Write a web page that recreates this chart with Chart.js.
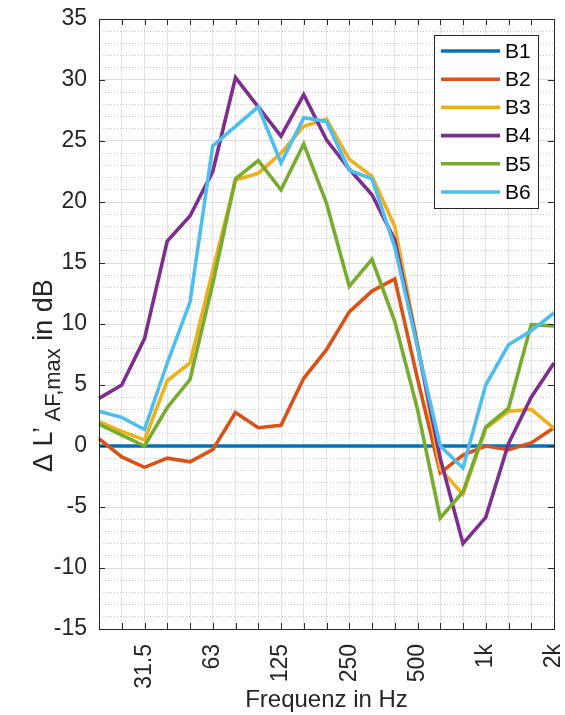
<!DOCTYPE html>
<html>
<head>
<meta charset="utf-8">
<script src="https://cdn.jsdelivr.net/npm/chart.js@4.4.0/dist/chart.umd.min.js"></script>
<style>
  html, body { margin: 0; padding: 0; background: #fff; }
  canvas { display: block; }
</style>
</head>
<body>
<canvas id="chart" width="565" height="715"></canvas>
<script>
// third-octave bands, 20 Hz .. 2 kHz
const BANDS = ['20', '25', '31.5', '40', '50', '63', '80', '100', '125', '160', '200',
               '250', '315', '400', '500', '630', '800', '1k', '1.25k', '1.6k', '2k'];
const SHOWN = ['31.5', '63', '125', '250', '500', '1k', '2k'];
const Y_MIN = -15, Y_MAX = 35;

// Δ L'AF,max in dB per band
const B1 = [0, 0, 0, 0, 0, 0, 0, 0, 0, 0, 0, 0, 0, 0, 0, 0, 0, 0, 0, 0, 0];
const B2 = [0.6, -0.9, -1.75, -1.0, -1.3, -0.3, 2.75, 1.5, 1.7, 5.55, 7.9, 11.0, 12.7, 13.7, 5.5, -2.2, -0.75, 0.0, -0.3, 0.25, 1.5];
const B3 = [2.0, 1.2, 0.5, 5.35, 6.8, 14.4, 21.8, 22.35, 24.0, 26.2, 26.8, 23.5, 22.1, 18.0, 8.4, -1.9, -3.95, 1.45, 2.85, 3.0, 1.45];
const B4 = [3.9, 5.0, 8.8, 16.8, 18.85, 22.5, 30.2, 27.8, 25.4, 28.8, 25.1, 22.7, 20.6, 16.9, 8.2, -1.0, -8.0, -5.85, 0.2, 4.0, 6.8];
const B5 = [1.8, 0.9, 0.0, 3.15, 5.45, 13.3, 21.9, 23.4, 21.0, 24.75, 19.9, 13.1, 15.3, 10.2, 3.0, -5.9, -3.75, 1.55, 3.1, 9.95, 9.85];
const B6 = [2.85, 2.35, 1.35, 6.8, 11.8, 24.6, 26.2, 27.8, 23.2, 26.9, 26.6, 22.6, 21.9, 16.3, 8.1, 0.0, -1.8, 5.0, 8.3, 9.45, 10.9];

// MATLAB default line colours
const SERIES = [
  { label: 'B1', data: B1, color: '#0072BD' },
  { label: 'B2', data: B2, color: '#D95319' },
  { label: 'B3', data: B3, color: '#EDB120' },
  { label: 'B4', data: B4, color: '#7E2F8E' },
  { label: 'B5', data: B5, color: '#77AC30' },
  { label: 'B6', data: B6, color: '#4DBEEE' },
];

const FONT = "'Liberation Sans', Arial, Helvetica, sans-serif";
const INK = '#262626';
const LINE_W = 3.6;

Chart.defaults.font.family = FONT;
Chart.defaults.color = INK;

// no extra label padding, so the plot box lands where the reference has it
const noPad = s => { s.paddingLeft = 0; s.paddingRight = 0; s.paddingTop = 0; s.paddingBottom = 0; };

// ─── axes box with inward ticks (MATLAB style) ──────────────
const frame = {
  id: 'frame',
  afterDatasetsDraw(chart) {
    const { ctx, chartArea: a, scales } = chart;
    ctx.save();
    ctx.strokeStyle = INK;
    ctx.lineWidth = 1;
    ctx.beginPath();
    for (let i = 0; i < BANDS.length; i++) {
      const x = Math.round(scales.x.getPixelForValue(i)) + 0.5;
      ctx.moveTo(x, a.bottom); ctx.lineTo(x, a.bottom - 6);
      ctx.moveTo(x, a.top);    ctx.lineTo(x, a.top + 6);
    }
    for (let v = Y_MIN; v <= Y_MAX; v += 5) {
      const y = Math.round(scales.y.getPixelForValue(v)) + 0.5;
      ctx.moveTo(a.left, y);  ctx.lineTo(a.left + 6, y);
      ctx.moveTo(a.right, y); ctx.lineTo(a.right - 6, y);
    }
    ctx.stroke();
    ctx.strokeRect(Math.round(a.left) + 0.5, Math.round(a.top) + 0.5,
                   Math.round(a.right - a.left), Math.round(a.bottom - a.top));
    ctx.restore();
  }
};

// ─── y title with subscript ──────────────────────────────────
const yTitle = {
  id: 'yTitle',
  afterDraw(chart) {
    const { ctx } = chart;
    const parts = [
      { t: '\u0394 L\u2019\u2009', size: 27, dy: 0 },
      { t: 'AF,max', size: 22, dy: 8 },
      { t: ' in dB', size: 27, dy: 0 },
    ];
    ctx.save();
    ctx.translate(52, 472);
    ctx.rotate(-Math.PI / 2);
    ctx.fillStyle = INK;
    ctx.textBaseline = 'alphabetic';
    ctx.textAlign = 'left';
    let x = 0;
    for (const p of parts) {
      ctx.font = p.size + 'px ' + FONT;
      ctx.fillText(p.t, x, p.dy);
      x += ctx.measureText(p.t).width;
    }
    ctx.restore();
  }
};

// ─── boxed legend inside the plot (north-east) ───────────────
const legendBox = {
  id: 'legendBox',
  afterDraw(chart) {
    const { ctx } = chart;
    const bx = 434.5, by = 35.5, bw = 104, bh = 173;
    ctx.save();
    ctx.fillStyle = '#fff';
    ctx.fillRect(bx, by, bw, bh);
    ctx.strokeStyle = INK;
    ctx.lineWidth = 1;
    ctx.strokeRect(bx, by, bw, bh);
    ctx.font = '21px ' + FONT;
    ctx.textBaseline = 'middle';
    chart.data.datasets.forEach((ds, i) => {
      const y = 51 + i * 28.2;
      ctx.strokeStyle = ds.borderColor;
      ctx.lineWidth = LINE_W;
      ctx.beginPath();
      ctx.moveTo(441, y); ctx.lineTo(500, y);
      ctx.stroke();
      ctx.fillStyle = '#000';
      ctx.fillText(ds.label, 505, y + 1);
    });
    ctx.restore();
  }
};

new Chart(document.getElementById('chart'), {
  type: 'line',
  data: {
    labels: BANDS,
    datasets: SERIES.map((s, i) => ({
      label: s.label,
      data: s.data,
      borderColor: s.color,
      backgroundColor: s.color,
      borderWidth: LINE_W,
      pointRadius: 0,
      tension: 0,
      fill: false,
      order: SERIES.length - i,   // later series on top
    })),
  },
  options: {
    responsive: false,
    animation: false,
    devicePixelRatio: 1,
    layout: { padding: { left: 0, right: 11, top: 19, bottom: 0 } },
    plugins: { legend: { display: false }, tooltip: { enabled: false } },
    scales: {
      x: {
        type: 'category',
        offset: false,
        grid: { color: '#e3e3e3', drawTicks: false },
        border: { display: false },
        ticks: {
          autoSkip: false, minRotation: 90, maxRotation: 90, padding: 15,
          font: { size: 23 }, color: INK,
          callback: (v, i) => (SHOWN.includes(BANDS[i]) ? BANDS[i] : ''),
        },
        title: { display: true, text: 'Frequenz in Hz', font: { size: 24 }, color: INK,
                 padding: { top: 0, bottom: 0 } },
        afterFit: s => { s.height = 86; noPad(s); },
      },
      y: {
        min: Y_MIN, max: Y_MAX,
        grid: { color: '#dedede', drawTicks: false },
        border: { display: false },
        ticks: { stepSize: 5, padding: 12, font: { size: 23 }, color: INK },
        afterFit: s => { s.width = 99; noPad(s); },
      },
      yMinor: {
        position: 'left',
        min: Y_MIN, max: Y_MAX,
        grid: {
          color: c => (c.tick && c.tick.value % 5 === 0 ? 'rgba(0,0,0,0)' : '#c2c2c2'),
          drawTicks: false,
        },
        border: { display: false, dash: [1, 2] },
        ticks: { stepSize: 1, display: false },
        afterFit: s => { s.width = 0; noPad(s); },
      },
    },
  },
  plugins: [frame, yTitle, legendBox],
});
</script>
</body>
</html>
